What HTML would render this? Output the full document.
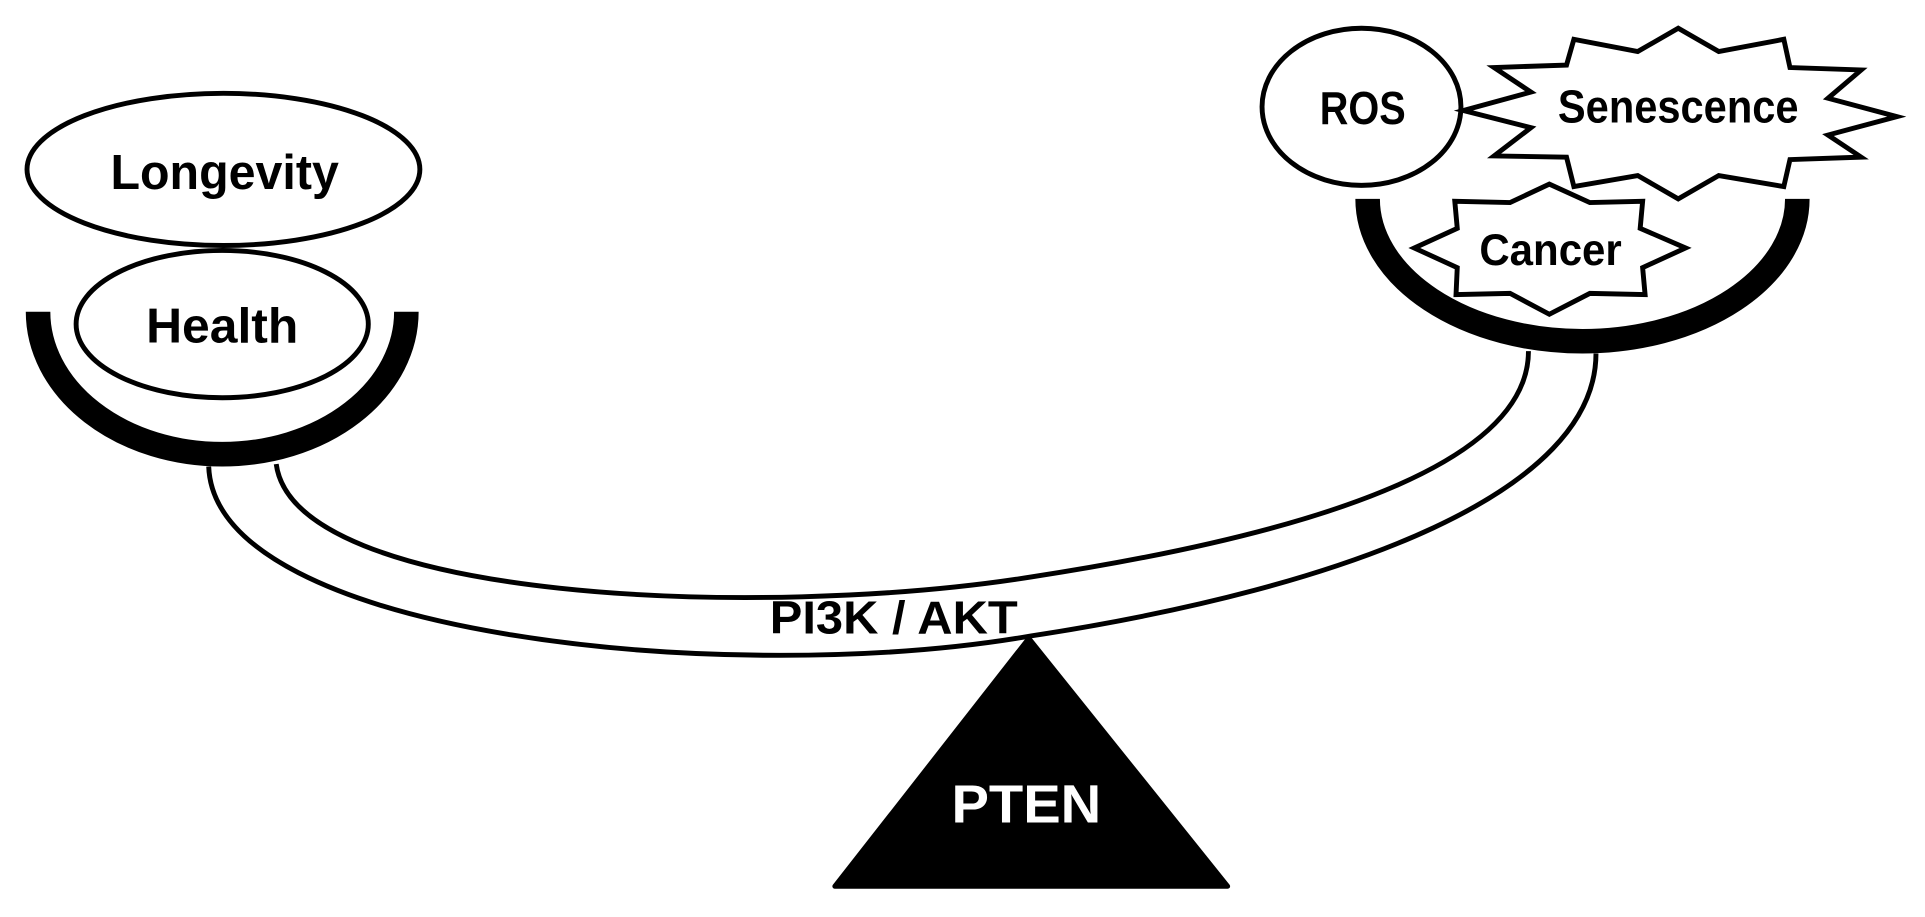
<!DOCTYPE html>
<html><head><meta charset="utf-8"><style>
html,body{margin:0;padding:0;background:#fff;}
svg{display:block;}
text{font-family:"Liberation Sans",sans-serif;font-weight:bold;fill:#000;}
</style></head><body>
<svg width="1925" height="917" viewBox="0 0 1568 747" preserveAspectRatio="none" xmlns="http://www.w3.org/2000/svg">
<rect width="1568" height="747" fill="#fff"/>
<!-- beam -->
<path d="M170,380 C175,520 600,560 840,518 C1100,478 1300,400 1300,288" fill="none" stroke="#000" stroke-width="4"/>
<path d="M225,378 C240,490 620,505 840,470 C1100,430 1245,370 1245,286" fill="none" stroke="#000" stroke-width="4"/>
<!-- bowls -->
<path d="M31,254 A150,116 0 0 0 331,254" fill="none" stroke="#000" stroke-width="20"/>
<path d="M1114,162 A175,116 0 0 0 1464,162" fill="none" stroke="#000" stroke-width="20"/>
<!-- left ellipses -->
<ellipse cx="182" cy="138" rx="160" ry="62" fill="#fff" stroke="#000" stroke-width="4"/>
<ellipse cx="181" cy="264" rx="119" ry="60" fill="#fff" stroke="#000" stroke-width="4"/>
<text x="183" y="154" font-size="40" text-anchor="middle" textLength="186" lengthAdjust="spacingAndGlyphs">Longevity</text>
<text x="181" y="279" font-size="40" text-anchor="middle" textLength="124" lengthAdjust="spacingAndGlyphs">Health</text>
<!-- right -->
<ellipse cx="1109" cy="87" rx="81" ry="64" fill="#fff" stroke="#000" stroke-width="4"/>
<text x="1110" y="101" font-size="38" text-anchor="middle" textLength="70" lengthAdjust="spacingAndGlyphs">ROS</text>
<polygon points="1192,90 1247,75 1217,55 1276,53 1282,32 1334,42 1367,23 1400,42 1453,32 1458,55 1516,57 1489,80 1545,95 1489,110 1516,128 1458,130 1453,152 1400,143 1367,162 1334,143 1282,152 1276,128 1217,127 1247,104" fill="#fff" stroke="#000" stroke-width="4" stroke-linejoin="miter"/>
<text x="1367" y="100" font-size="38" text-anchor="middle" textLength="196" lengthAdjust="spacingAndGlyphs">Senescence</text>
<polygon points="1152,202 1187,186 1185,164 1230,165 1262,150 1295,165 1338,164 1336,186 1373,202 1338,218 1340,240 1295,239 1262,256 1230,239 1186,240 1187,218" fill="#fff" stroke="#000" stroke-width="4"/>
<text x="1263" y="216" font-size="36" text-anchor="middle" textLength="116" lengthAdjust="spacingAndGlyphs">Cancer</text>
<!-- fulcrum -->
<polygon points="838,520 680,722 1000,722" fill="#000" stroke="#000" stroke-width="4" stroke-linejoin="round"/>
<text x="836" y="670" font-size="44" text-anchor="middle" style="fill:#fff" textLength="122" lengthAdjust="spacingAndGlyphs">PTEN</text>
<text x="728" y="516" font-size="38" text-anchor="middle" textLength="202" lengthAdjust="spacingAndGlyphs">PI3K / AKT</text>
</svg>
</body></html>
